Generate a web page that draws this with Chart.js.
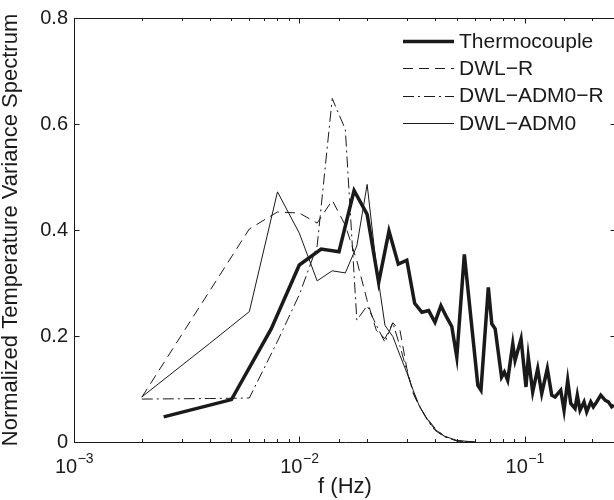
<!DOCTYPE html>
<html>
<head>
<meta charset="utf-8">
<script src="https://cdn.jsdelivr.net/npm/chart.js@4.4.1/dist/chart.umd.min.js"></script>
<style>
  html, body { margin: 0; padding: 0; background: #fff; overflow: hidden; }
  #wrap { width: 620px; height: 500px; }
</style>
</head>
<body>
<div id="wrap"><canvas id="c" width="620" height="500"></canvas></div>
<script>
// ---- data ----
const seriesNames = ['Thermocouple', 'DWL\u2212R', 'DWL\u2212ADM0\u2212R', 'DWL\u2212ADM0'];

const tcFreq = [0.0025, 0.005, 0.0075, 0.01, 0.0125, 0.015, 0.0175, 0.02, 0.0225, 0.025, 0.0275, 0.03,
  0.0325, 0.035, 0.0375, 0.04, 0.0425, 0.045, 0.0475, 0.05, 0.054, 0.062, 0.064, 0.069, 0.0715, 0.074,
  0.079, 0.0813, 0.0841, 0.0886, 0.0907, 0.0964, 0.1014, 0.1038, 0.1086, 0.1143, 0.1191, 0.1261, 0.1319,
  0.1365, 0.1446, 0.1496, 0.1553, 0.1602, 0.1674, 0.1713, 0.1761, 0.1835, 0.1886, 0.1965, 0.2018, 0.2089,
  0.2177, 0.2275, 0.2352, 0.2435, 0.2492];
const tcVal = [0.0475, 0.080, 0.2135, 0.334, 0.364, 0.359, 0.4746, 0.4295, 0.301, 0.398, 0.3356, 0.343,
  0.2616, 0.2447, 0.248, 0.226, 0.257, 0.236, 0.218, 0.160, 0.354, 0.107, 0.098, 0.2917, 0.223, 0.2135,
  0.1226, 0.132, 0.1164, 0.1854, 0.154, 0.1947, 0.1038, 0.160, 0.0945, 0.1384, 0.0915, 0.1384, 0.0883,
  0.085, 0.0977, 0.060, 0.1164, 0.0727, 0.0633, 0.0883, 0.060, 0.0757, 0.0569, 0.0757, 0.0663, 0.0757,
  0.0883, 0.0789, 0.0757, 0.0663, 0.0695];

const dwlFreq = [0.002, 0.004, 0.006, 0.008, 0.010, 0.012, 0.014, 0.016, 0.018, 0.020, 0.022, 0.024,
  0.026, 0.028, 0.030, 0.032, 0.034, 0.036, 0.038, 0.040, 0.044, 0.050, 0.060];
const dwlRVal = [0.0845, 0.285, 0.402, 0.434, 0.432, 0.413, 0.456, 0.409, 0.342, 0.267, 0.210, 0.195,
  0.225, 0.21, 0.139, 0.092, 0.068, 0.051, 0.038, 0.026, 0.011, 0.002, 0];
const dwlAdmRVal = [0.081, 0.082, 0.083, 0.19, 0.278, 0.37, 0.648, 0.59, 0.23, 0.257, 0.22, 0.188,
  0.225, 0.18, 0.135, 0.094, 0.07, 0.05, 0.034, 0.022, 0.01, 0.002, 0];
const dwlAdmVal = [0.085, 0.186, 0.246, 0.472, 0.394, 0.304, 0.323, 0.319, 0.37, 0.486, 0.33, 0.22,
  0.199, 0.163, 0.131, 0.098, 0.069, 0.051, 0.036, 0.024, 0.011, 0.003, 0];

const xTickValues = [0.001, 0.01, 0.1];
const xTickBase = ['10', '10', '10'];
const xTickExp = ['\u22123', '\u22122', '\u22121'];
const yTickValues = [0, 0.2, 0.4, 0.6, 0.8];
const yTickLabels = ['0', '0.2', '0.4', '0.6', '0.8'];
const xTitle = 'f (Hz)';
const yTitle = 'Normalized Temperature Variance Spectrum';

// ---- build ----
const FONT = '"Liberation Sans", Arial, Helvetica, sans-serif';
const INK = '#1a1a1a';
const XMIN = 0.001, XMAX = 0.2544;

function pts(fx, fy) { return fx.map((f, i) => ({ x: f, y: fy[i] })); }

const styles = [
  { borderWidth: 3.5, borderDash: [] },
  { borderWidth: 1, borderDash: [10, 6] },
  { borderWidth: 1, borderDash: [11, 4, 2, 4] },
  { borderWidth: 1, borderDash: [] }
];
const dataSets = [pts(tcFreq, tcVal), pts(dwlFreq, dwlRVal), pts(dwlFreq, dwlAdmRVal), pts(dwlFreq, dwlAdmVal)];

const datasets = dataSets.map((d, i) => ({
  label: seriesNames[i],
  data: d,
  borderColor: INK,
  backgroundColor: INK,
  borderWidth: styles[i].borderWidth,
  borderDash: styles[i].borderDash,
  pointRadius: 0,
  tension: 0,
  fill: false,
  borderJoinStyle: 'miter',
  borderCapStyle: 'butt'
}));

function isPow10(v) { const l = Math.log10(v); return Math.abs(l - Math.round(l)) < 1e-6; }

const framePlugin = {
  id: 'frame',
  afterDatasetsDraw(chart) {
    const ctx = chart.ctx, a = chart.chartArea;
    const xs = chart.scales.x, ys = chart.scales.y;
    ctx.save();
    ctx.strokeStyle = INK;
    ctx.lineWidth = 1;
    ctx.setLineDash([]);
    ctx.beginPath();
    ctx.moveTo(a.left, a.top + 0.5); ctx.lineTo(a.right, a.top + 0.5);
    ctx.moveTo(a.right - 0.5, a.top); ctx.lineTo(a.right - 0.5, a.bottom);
    xs.ticks.forEach(t => {
      if (t.value > XMAX * 0.999) return;
      const px = Math.round(xs.getPixelForValue(t.value)) + 0.5;
      const len = isPow10(t.value) ? 5.5 : 3;
      ctx.moveTo(px, a.bottom); ctx.lineTo(px, a.bottom - len);
      ctx.moveTo(px, a.top); ctx.lineTo(px, a.top + len);
    });
    ys.ticks.forEach(t => {
      const py = Math.round(ys.getPixelForValue(t.value)) + 0.5;
      ctx.moveTo(a.left, py); ctx.lineTo(a.left + 5.5, py);
      ctx.moveTo(a.right, py); ctx.lineTo(a.right - 5.5, py);
    });
    ctx.stroke();

    // x tick labels: base + superscript exponent, centred on the tick
    ctx.fillStyle = INK;
    ctx.textBaseline = 'alphabetic';
    ctx.textAlign = 'left';
    xTickValues.forEach((v, i) => {
      const px = xs.getPixelForValue(v);
      ctx.font = '20px ' + FONT;
      const wb = ctx.measureText(xTickBase[i]).width;
      ctx.font = '14px ' + FONT;
      const we = ctx.measureText(xTickExp[i]).width;
      const x0 = px - (wb + we) / 2;
      ctx.font = '20px ' + FONT;
      ctx.fillText(xTickBase[i], x0, a.bottom + 31);
      ctx.font = '14px ' + FONT;
      ctx.fillText(xTickExp[i], x0 + wb + 0.5, a.bottom + 21);
    });

    // legend
    ctx.font = '21px ' + FONT;
    ctx.textBaseline = 'middle';
    chart.data.datasets.forEach((ds, i) => {
      const y = 41 + i * 27.3;
      ctx.beginPath();
      ctx.lineWidth = ds.borderWidth;
      ctx.setLineDash(ds.borderDash || []);
      ctx.moveTo(403, Math.round(y) + 0.5); ctx.lineTo(454, Math.round(y) + 0.5);
      ctx.stroke();
      ctx.fillText(ds.label, 459, y + 1);
    });
    ctx.restore();
  }
};

new Chart(document.getElementById('c'), {
  type: 'line',
  data: { datasets },
  options: {
    responsive: false,
    animation: false,
    layout: { padding: { left: 0, right: 4, top: 16, bottom: 0 } },
    plugins: { legend: { display: false }, tooltip: { enabled: false } },
    scales: {
      x: {
        type: 'logarithmic',
        min: XMIN, max: XMAX,
        position: 'bottom',
        grid: { display: false, drawTicks: false },
        border: { display: true, color: INK, width: 1 },
        ticks: { display: false, autoSkip: false },
        title: { display: true, text: xTitle, color: INK, font: { family: FONT, size: 22 }, padding: { top: 0, bottom: 0 } },
        afterFit: (s) => { s.height = 58; }
      },
      y: {
        min: 0, max: 0.8,
        grid: { display: false, drawTicks: false },
        border: { display: true, color: INK, width: 1 },
        afterBuildTicks: (s) => { s.ticks = yTickValues.map(v => ({ value: v })); },
        ticks: {
          padding: 6, color: INK, font: { family: FONT, size: 20 },
          callback: (v) => { const i = yTickValues.findIndex(t => Math.abs(t - v) < 1e-9); return i >= 0 ? yTickLabels[i] : ''; }
        },
        title: { display: true, text: yTitle, color: INK, font: { family: FONT, size: 22 }, padding: { top: -2, bottom: 0 } },
        afterFit: (s) => { s.width = 74; }
      }
    }
  },
  plugins: [framePlugin]
});
</script>
</body>
</html>
